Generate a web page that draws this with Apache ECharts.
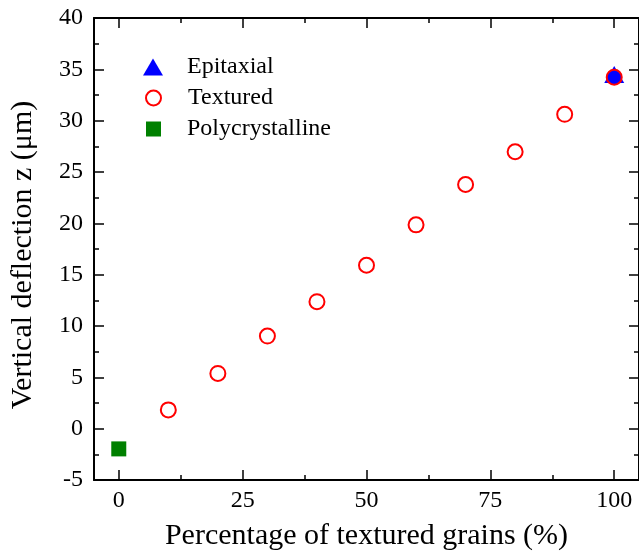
<!DOCTYPE html>
<html>
<head>
<meta charset="utf-8">
<script src="https://cdn.jsdelivr.net/npm/echarts@6/dist/echarts.min.js"></script>
<style>
  html, body { margin: 0; padding: 0; background: #ffffff; }
  #chart { width: 639px; height: 556px; }
</style>
</head>
<body>
<div id="chart"></div>
<script>
// Measured deflection versus share of textured grains
const textureLevels = [10, 20, 30, 40, 50, 60, 70, 80, 90, 100];
const texturedDeflection = [1.83, 5.38, 9.02, 12.37, 15.92, 19.85, 23.78, 26.97, 30.62, 34.23];
const epitaxialPoint = [100, 34.5];
const polycrystallinePoint = [0, -1.97];

// Axis ticks
const xMajorTicks = [0, 25, 50, 75, 100];
const xMinorTicks = [12.5, 37.5, 62.5, 87.5];
const yRange = [-5, 40];
const xRange = [-5, 105];

const FONT = "'Liberation Serif', 'Times New Roman', serif";
const BLUE = '#0000ff';
const RED = '#ff0000';
const GREEN = '#008000';

// The textured sample at 100 % sits on the epitaxial sample; fill it with that colour
const texturedData = textureLevels.map((x, i) => {
  const item = { value: [x, texturedDeflection[i]] };
  if (x === epitaxialPoint[0]) item.itemStyle = { color: BLUE };
  return item;
});

const lineStyle = { color: '#000', width: 2 };

function xAxisDef(position, ticks, len, showLine, showLabels) {
  return {
    type: 'value', position, min: xRange[0], max: xRange[1],
    splitLine: { show: false },
    axisLine: { show: showLine, onZero: false, lineStyle },
    axisTick: { show: true, inside: true, length: len, customValues: ticks,
                lineStyle: { color: '#000', width: 1.5 } },
    axisLabel: showLabels
      ? { show: true, customValues: ticks, fontFamily: FONT, fontSize: 24, color: '#000', margin: 9 }
      : { show: false }
  };
}

function yAxisDef(position, showLabels) {
  return {
    type: 'value', position, min: yRange[0], max: yRange[1], interval: 5,
    splitLine: { show: false },
    axisLine: { show: true, onZero: false, lineStyle },
    axisTick: { show: true, inside: true, length: 10, lineStyle: { color: '#000', width: 1.5 } },
    minorTick: { show: true, splitNumber: 2, length: 5, lineStyle: { color: '#000', width: 1.5 } },
    minorSplitLine: { show: false },
    axisLabel: showLabels
      ? { show: true, fontFamily: FONT, fontSize: 24, color: '#000', margin: 11 }
      : { show: false }
  };
}

function legendDef(name, left, top, w, h, padLeft, itemStyle) {
  return {
    data: [name], orient: 'vertical', left, top, padding: 0,
    itemWidth: w, itemHeight: h, selectedMode: false,
    itemStyle,
    textStyle: { fontFamily: FONT, fontSize: 24, color: '#000', padding: [0, 0, 0, padLeft] }
  };
}

const xBottom = xAxisDef('bottom', xMajorTicks, 10, true, true);
xBottom.name = 'Percentage of textured grains (%)';
xBottom.nameLocation = 'middle';
xBottom.nameGap = 41;
xBottom.nameTextStyle = { fontFamily: FONT, fontSize: 30, color: '#000' };

const yLeft = yAxisDef('left', true);
yLeft.name = 'Vertical deflection z (\u03bcm)';
yLeft.nameLocation = 'middle';
yLeft.nameGap = 56;
yLeft.nameTextStyle = { fontFamily: FONT, fontSize: 30, color: '#000', padding: [0, 12, 0, 0] };

const chart = echarts.init(document.getElementById('chart'), null, { renderer: 'canvas' });
chart.setOption({
  backgroundColor: '#ffffff',
  animation: false,
  grid: { left: 91, top: 18, width: 551, height: 465.5, containLabel: false },
  xAxis: [
    xBottom,
    xAxisDef('bottom', xMinorTicks, 5, false, false),
    xAxisDef('top', xMajorTicks, 10, true, false),
    xAxisDef('top', xMinorTicks, 5, false, false)
  ],
  yAxis: [yLeft, yAxisDef('right', false)],
  legend: [
    legendDef('Epitaxial', 143, 55, 20, 17, 19, { color: BLUE }),
    legendDef('Textured', 145, 86, 15, 15, 22, { color: 'rgba(0,0,0,0)', borderColor: RED, borderWidth: 2 }),
    legendDef('Polycrystalline', 146, 117, 15, 15, 21, { color: GREEN })
  ],
  series: [
    {
      name: 'Epitaxial', type: 'scatter', symbol: 'triangle', symbolSize: [20, 17],
      itemStyle: { color: BLUE, opacity: 1 },
      data: [epitaxialPoint]
    },
    {
      name: 'Textured', type: 'scatter', symbol: 'circle', symbolSize: 15,
      itemStyle: { color: 'rgba(0,0,0,0)', borderColor: RED, borderWidth: 2, opacity: 1 },
      data: texturedData
    },
    {
      name: 'Polycrystalline', type: 'scatter', symbol: 'rect', symbolSize: 15,
      itemStyle: { color: GREEN, opacity: 1 },
      data: [polycrystallinePoint]
    }
  ]
});
</script>
</body>
</html>
